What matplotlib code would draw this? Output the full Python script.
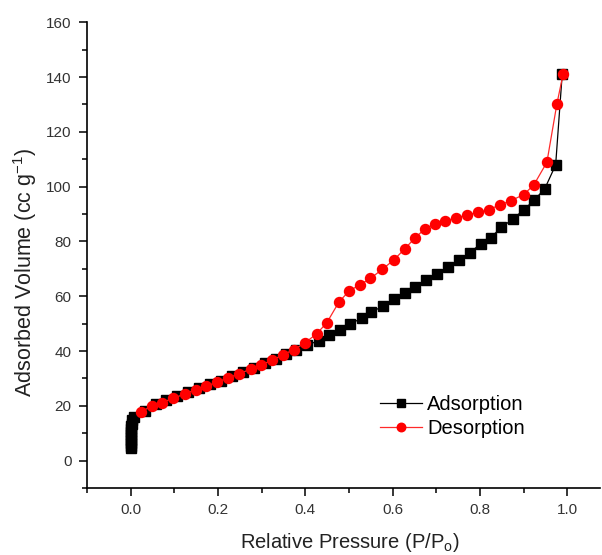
import matplotlib
matplotlib.use("Agg")
import matplotlib.pyplot as plt
from matplotlib.ticker import MultipleLocator

plt.rcParams['font.family'] = ['Liberation Sans', 'DejaVu Sans']
plt.rcParams['mathtext.default'] = 'regular'

# Adsorption branch
ads_x = [0.0, 0.0, 0.0, 0.0, 0.0, 0.0, 0.0, 0.0, 0.001, 0.002, 0.004, 0.008,
         0.032, 0.057, 0.082, 0.107, 0.132, 0.157, 0.182, 0.207, 0.232, 0.257,
         0.282, 0.307, 0.332, 0.355, 0.378, 0.403, 0.431, 0.454, 0.479, 0.502,
         0.529, 0.551, 0.578, 0.603, 0.628, 0.652, 0.677, 0.702, 0.727, 0.751,
         0.776, 0.801, 0.824, 0.849, 0.875, 0.900, 0.924, 0.948, 0.973, 0.988]
ads_y = [4.5, 5.5, 6.5, 7.5, 8.5, 9.5, 10.5, 11.5, 12.5, 13.5, 14.8, 16.0,
         18.2, 20.6, 22.0, 23.5, 25.0, 26.4, 27.8, 29.2, 30.7, 32.3,
         33.9, 35.5, 37.2, 38.8, 40.5, 42.1, 43.8, 45.8, 47.8, 49.7,
         52.1, 54.2, 56.4, 59.1, 61.3, 63.4, 65.8, 68.0, 70.7, 73.1,
         75.9, 79.0, 81.4, 85.1, 88.2, 91.5, 95.1, 99.2, 107.9, 141.0]

# Desorption branch
des_x = [0.990, 0.976, 0.953, 0.923, 0.900, 0.871, 0.845, 0.820, 0.796, 0.770,
         0.745, 0.719, 0.696, 0.673, 0.650, 0.627, 0.603, 0.576, 0.549, 0.524,
         0.500, 0.477, 0.449, 0.426, 0.400, 0.374, 0.349, 0.324, 0.299, 0.275,
         0.248, 0.223, 0.198, 0.173, 0.149, 0.124, 0.098, 0.072, 0.048, 0.024]
des_y = [141.0, 130.3, 108.9, 100.6, 97.1, 94.9, 93.3, 91.6, 90.6, 89.7,
         88.5, 87.5, 86.3, 84.5, 81.1, 77.2, 73.3, 69.8, 66.5, 64.1,
         61.9, 57.9, 50.3, 46.3, 43.1, 40.5, 38.7, 36.6, 35.0, 33.4,
         31.7, 30.1, 28.7, 27.1, 25.9, 24.3, 22.8, 21.2, 19.8, 17.9]

fig = plt.figure(figsize=(6.02, 5.55), dpi=100)
ax = fig.add_axes([0.1445, 0.1207, 0.8525, 0.8393])

ax.plot(ads_x, ads_y, color='black', lw=0.9, marker='s', ms=6.7,
        mec='black', mfc='black', label='Adsorption')
ax.plot(des_x, des_y, color='#ff2a2a', lw=0.9, marker='o', ms=7.2,
        mec='red', mfc='red', label='Desorption')

ax.set_xlim(-0.1, 1.075)
ax.set_ylim(-10, 160)
ax.xaxis.set_minor_locator(MultipleLocator(0.1))
ax.yaxis.set_minor_locator(MultipleLocator(10))
ax.set_xticks([0.0, 0.2, 0.4, 0.6, 0.8, 1.0])
ax.set_yticks([0, 20, 40, 60, 80, 100, 120, 140, 160])

for s in ['top', 'right']:
    ax.spines[s].set_visible(False)
for s in ['left', 'bottom']:
    ax.spines[s].set_linewidth(1.2)

ax.tick_params(which='major', direction='out', length=6, width=1.1,
               labelsize=11, labelcolor='#333333', pad=5)
ax.tick_params(which='minor', direction='out', length=3.5, width=1.1)

ax.set_xlabel('Relative Pressure (P/P$_o$)', fontsize=14.5, color='#222222')
ax.set_ylabel('Adsorbed Volume (cc g$^{-1}$)', fontsize=15.5, color='#222222')
ax.xaxis.set_label_coords(0.5127, -0.092)
ax.yaxis.set_label_coords(-0.094, 0.4635)

ax.legend(loc='upper left', bbox_to_anchor=(0.571, 0.2), frameon=False,
          fontsize=14.5, handlelength=2.1, handletextpad=0.25,
          labelspacing=0.25, borderpad=0.0, borderaxespad=0.0,
          markerscale=0.85)

fig.savefig('out.png', dpi=100)
